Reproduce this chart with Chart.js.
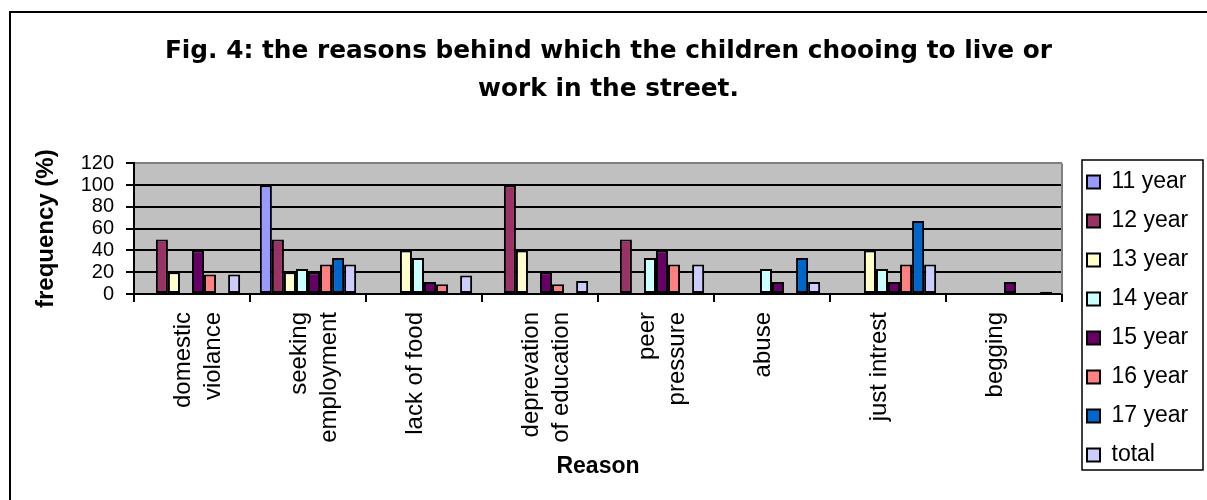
<!DOCTYPE html>
<html>
<head>
<meta charset="utf-8">
<title>Fig. 4</title>
<script src="https://cdn.jsdelivr.net/npm/chart.js@4.4.1/dist/chart.umd.min.js"></script>
<style>
    body { margin: 0; background: #fff; }
</style>
</head>
<body>
<canvas id="myBarChart" width="1207" height="500"></canvas>
<script>
// categories (x axis)
var reasons = [['domestic', 'violance'], ['seeking', 'employment'], 'lack of food', ['deprevation', 'of education'], ['peer', 'pressure'], 'abuse', 'just intrest', 'begging'];

// series values (%)
var year11 = [0, 100, 0, 0, 0, 0, 0, 0];
var year12 = [50, 50, 0, 100, 50, 0, 0, 0];
var year13 = [20, 20, 40, 40, 0, 0, 40, 0];
var year14 = [0, 23, 33, 0, 33, 23, 23, 0];
var year15 = [40, 20, 11, 20, 40, 11, 11, 11];
var year16 = [18, 27, 9, 9, 27, 0, 27, 0];
var year17 = [0, 33, 0, 0, 0, 33, 67, 0];
var total = [18, 27, 17, 12, 27, 11, 27, 2];

var seriesNames = ['11 year', '12 year', '13 year', '14 year', '15 year', '16 year', '17 year', 'total'];
var seriesData = [year11, year12, year13, year14, year15, year16, year17, total];
var seriesColors = ['#9999FF', '#993366', '#FFFFCC', '#CCFFFF', '#660066', '#FF8080', '#0066CC', '#CCCCFF'];

// y axis ticks
var yMin = 0;
var yMax = 120;
var yStep = 20;

var titleLines = ['Fig. 4: the reasons behind which the children chooing to live or', 'work in the street.'];

Chart.defaults.font.family = "'Liberation Sans', Arial, sans-serif";
Chart.defaults.color = '#000';

var datasets = seriesNames.map(function (name, i) {
    return {
        label: name,
        data: seriesData[i],
        backgroundColor: seriesColors[i],
        borderColor: '#000',
        borderWidth: 2,
        borderSkipped: false,
        categoryPercentage: 0.83,
        barPercentage: 1.0
    };
});

// grey plot background, frame, legend box
var framePlugin = {
    id: 'frame',
    afterLayout: function (chart) {
        chart.titleBlock.left = 10;
        chart.titleBlock.right = 1207;
        var lg = chart.legend;
        lg.left = 1071;
        lg.right = 1203;
        lg.top = 150;
        lg.bottom = 487;
    },
    beforeDraw: function (chart) {
        var ctx = chart.ctx, a = chart.chartArea;
        ctx.save();
        ctx.fillStyle = '#fff';
        ctx.fillRect(0, 0, chart.width, chart.height);
        ctx.fillStyle = '#C0C0C0';
        ctx.fillRect(a.left, a.top, a.right - a.left, a.bottom - a.top);
        ctx.restore();
    },
    afterDraw: function (chart) {
        var ctx = chart.ctx, a = chart.chartArea;
        ctx.save();
        // right edge of plot
        ctx.strokeStyle = '#808080';
        ctx.lineWidth = 2;
        ctx.beginPath();
        ctx.moveTo(a.right, a.top);
        ctx.lineTo(a.right, a.bottom);
        ctx.stroke();
        // outer frame
        ctx.strokeStyle = '#000';
        ctx.lineWidth = 2;
        ctx.strokeRect(10, 12, 1210, 500);
        // legend frame
        ctx.lineWidth = 1.5;
        ctx.strokeRect(1082, 160, 121, 310);
        ctx.restore();
    }
};

var ctx = document.getElementById('myBarChart').getContext('2d');
var myBarChart = new Chart(ctx, {
    type: 'bar',
    data: {
        labels: reasons,
        datasets: datasets
    },
    options: {
        responsive: false,
        animation: false,
        events: [],
        layout: {
            padding: { left: 10, right: 30, top: 12, bottom: 17 }
        },
        plugins: {
            title: {
                display: true,
                text: titleLines,
                font: { family: "'DejaVu Sans', sans-serif", size: 24.8, weight: 'bold', lineHeight: 1.54 },
                padding: { top: 20, bottom: 55 }
            },
            legend: {
                display: true,
                position: 'right',
                labels: {
                    boxWidth: 13,
                    boxHeight: 13,
                    padding: 16,
                    font: { size: 23, lineHeight: 1 }
                }
            },
            tooltip: { enabled: false }
        },
        scales: {
            x: {
                afterFit: function (scale) { scale.height = 189; },
                grid: {
                    drawOnChartArea: false,
                    tickLength: 8,
                    tickColor: '#000',
                    lineWidth: 2
                },
                border: { color: '#000', width: 2 },
                ticks: {
                    autoSkip: false,
                    maxRotation: 90,
                    minRotation: 90,
                    padding: 10,
                    labelOffset: -9,
                    font: { size: 24, lineHeight: 1.25 }
                },
                title: {
                    display: true,
                    text: 'Reason',
                    font: { size: 23, weight: 'bold' },
                    padding: { top: 3, bottom: 3 }
                }
            },
            y: {
                min: yMin,
                max: yMax,
                afterFit: function (scale) { scale.width = 124; },
                grid: {
                    color: function (c) { return c.tick && c.tick.value === yMax ? '#808080' : '#000'; },
                    tickColor: '#000',
                    tickLength: 8,
                    lineWidth: 2
                },
                border: { color: '#000', width: 2 },
                ticks: {
                    stepSize: yStep,
                    autoSkip: false,
                    padding: 12,
                    font: { size: 20 }
                },
                title: {
                    display: true,
                    text: 'frequency (%)',
                    font: { size: 24, weight: 'bold' },
                    padding: { top: 22, bottom: 0 }
                }
            }
        }
    },
    plugins: [framePlugin]
});

// make the plot end where the legend area starts
myBarChart.options.layout.padding.right = 1207 - 1062 - myBarChart.legend.width;
myBarChart.update();
</script>
</body>
</html>
